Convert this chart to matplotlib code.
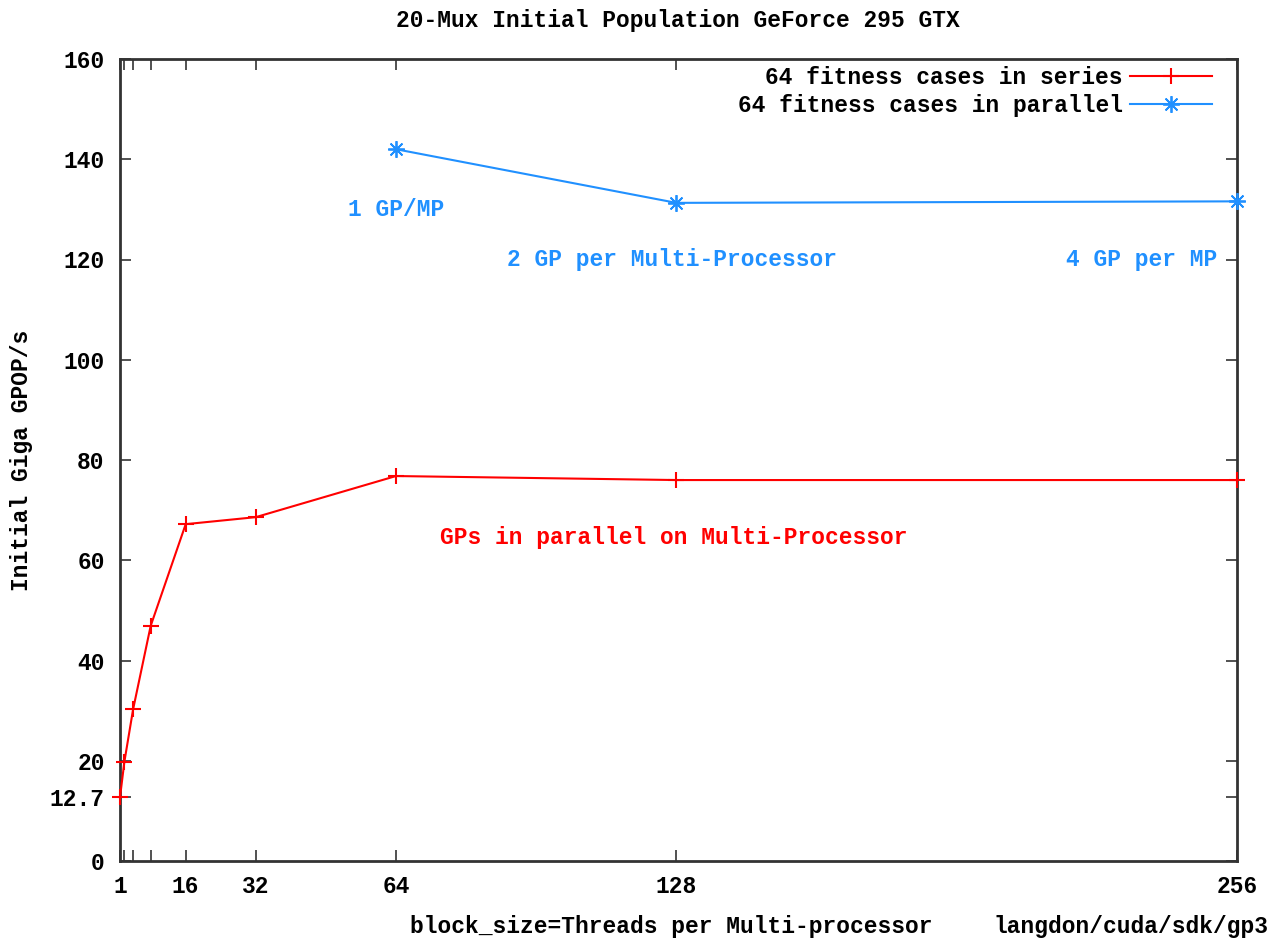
import matplotlib
matplotlib.use("Agg")
import matplotlib.pyplot as plt

# Data
series_x = [1, 2, 4, 8, 16, 32, 64, 128, 256]
series_y = [12.7, 19.8, 30.3, 46.9, 67.2, 68.6, 76.8, 76.0, 76.0]
parallel_x = [64, 128, 256]
parallel_y = [142.0, 131.3, 131.6]
xtick_major = [1, 16, 32, 64, 128, 256]
xtick_minor = [2, 4, 8]
ytick_vals = [0, 12.7, 20, 40, 60, 80, 100, 120, 140, 160]
ytick_labels = ["0", "12.7", "20", "40", "60", "80", "100", "120", "140", "160"]

RED = "#ff0000"
BLUE = "#2090ff"
FONT = "Liberation Mono"
FS = 16.5

W, H = 1277, 939
fig = plt.figure(figsize=(W / 100, H / 100), dpi=100)
ax = fig.add_axes([120 / W, 1 - 861 / H, (1237 - 120) / W, (861 - 59) / H])

ax.plot(series_x, series_y, color=RED, lw=1.5, marker="+", ms=12, mew=1.5,
        label="64 fitness cases in series", clip_on=False, zorder=3)
ax.plot(parallel_x, parallel_y, color=BLUE, lw=1.5, marker=(8, 2, 0), ms=12, mew=1.3,
        label="64 fitness cases in parallel", clip_on=False, zorder=3)

ax.set_xlim(1, 256)
ax.set_ylim(0, 160)

ax.set_xticks(xtick_major)
ax.set_xticklabels([str(v) for v in xtick_major])
ax.set_xticks(xtick_minor, minor=True)
ax.set_yticks(ytick_vals)
ax.set_yticklabels(ytick_labels)

for lab in ax.get_xticklabels() + ax.get_yticklabels():
    lab.set_fontfamily(FONT)
    lab.set_fontweight("bold")
    lab.set_fontsize(FS)

ax.tick_params(axis="both", which="both", direction="in", top=True, right=True,
               length=8, width=1.2, color="#333333")
ax.tick_params(axis="x", which="major", pad=10)
ax.tick_params(axis="y", which="major", pad=11)
for s in ax.spines.values():
    s.set_linewidth(2)
    s.set_color("#333333")

# Annotations
ax.text(64, 130, "1 GP/MP", color=BLUE, fontfamily=FONT, fontweight="bold",
        fontsize=FS, ha="center", va="center")
ax.text(127, 120, "2 GP per Multi-Processor", color=BLUE, fontfamily=FONT,
        fontweight="bold", fontsize=FS, ha="center", va="center")
ax.text(251.5, 120, "4 GP per MP", color=BLUE, fontfamily=FONT, fontweight="bold",
        fontsize=FS, ha="right", va="center")
ax.text(127.5, 64.6, "GPs in parallel on Multi-Processor", color=RED, fontfamily=FONT,
        fontweight="bold", fontsize=FS, ha="center", va="center")

# Title and labels
fig.text(678 / W, 1 - 20 / H, "20-Mux Initial Population GeForce 295 GTX",
         fontfamily=FONT, fontsize=FS, fontweight="bold", ha="center", va="center")
fig.text(410 / W, 1 - 927 / H, "block_size=Threads per Multi-processor",
         fontfamily=FONT, fontsize=FS, fontweight="bold", ha="left", va="center")
fig.text(993 / W, 1 - 927 / H, "langdon/cuda/sdk/gp3",
         fontfamily=FONT, fontsize=FS, fontweight="bold", ha="left", va="center")
fig.text(22 / W, 1 - 460 / H, "Initial Giga GPOP/s", rotation=90,
         fontfamily=FONT, fontsize=FS, fontweight="bold", ha="center", va="center")

leg = ax.legend(loc="upper right", bbox_to_anchor=(1212 / W, 1 - 66 / H),
                bbox_transform=fig.transFigure, frameon=False, markerfirst=False,
                handlelength=3.6, handletextpad=0.3, labelspacing=0.2,
                borderpad=0, borderaxespad=0,
                prop={"family": FONT, "weight": "bold", "size": FS})

fig.savefig("out.png", dpi=100)
